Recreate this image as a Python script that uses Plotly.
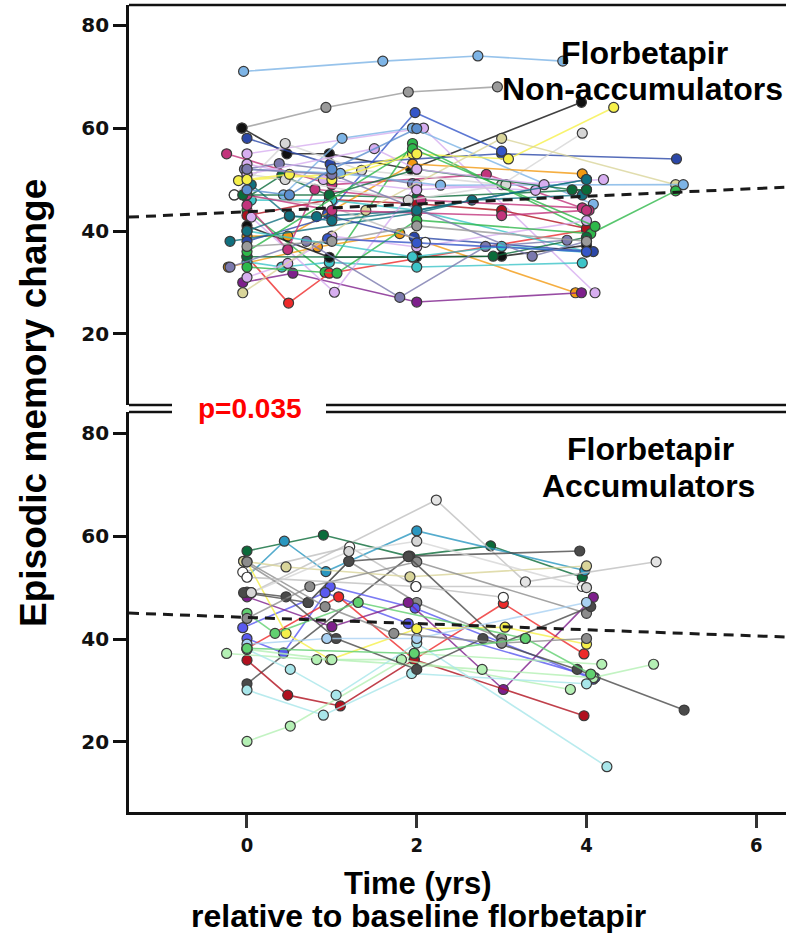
import numpy as np
import plotly.graph_objects as go

# ---------------- colours ----------------
DB = "#2B47A8"; LB = "#7DB4E6"; LAV = "#D7AEF0"; MAG = "#C2347C"; BLK = "#111111"
GRY = "#9A9A9A"; LGR = "#D6D6D6"; WHT = "#FFFFFF"; YEL = "#F6F04A"; ORA = "#F39A12"
DGR = "#0B6B3A"; GRN = "#2EB84A"; TEA = "#3CC4C8"; DTE = "#11707F"; RED = "#EE2A2A"
DRD = "#B0101E"; PUR = "#7E1F8C"; SLA = "#7B79AE"; KHA = "#D9D59A"; ROY = "#3556C8"
STL = "#5B8FD0"
TBL = "#2A97C0"; VLG = "#E4E4E4"; GR2 = "#8C8C8C"; DKG = "#4A4A4A"; BLU = "#5A5AF0"
LGN = "#B4F0B4"; GN2 = "#60D070"; LCY = "#A8E6EA"; LBL = "#A9D1F2"

# ---------------- data: non-accumulators (top panel) ----------------
TOP_TIMES = [
    [-0.04, 1.6, 2.72, 3.72], [-0.06, 0.93, 1.9, 2.95], [-0.06, 0.47, 0.97, 1.93, 3.94],
    [0.0, 0.98, 3.0, 5.06], [0.95, 1.98, 3.0], [0.0, 2.08, 4.1], [0.43, 1.12, 1.95, 4.08],
    [-0.24, 1.0, 2.82, 4.03], [-0.15, 0.45, 1.35, 3.0, 3.95], [-0.03, 0.38, 1.0, 1.95],
    [-0.1, 1.0, 1.95, 3.08, 4.32], [0.0, 0.41, 0.97, 2.0, 4.0], [0.0, 0.92, 1.95, 4.05],
    [0.0, 0.48, 1.95, 3.95], [-0.22, 0.83, 1.8, 3.87], [-0.05, 0.54, 2.0, 3.94],
    [0.0, 0.49, 0.97, 4.0], [0.0, 0.97, 2.0, 3.0, 4.0], [0.0, 0.41, 0.97, 2.0, 3.95],
    [0.05, 1.0, 2.0, 4.0], [0.05, 0.5, 0.82, 2.0, 4.0], [-0.2, 2.0, 2.65, 3.95],
    [0.0, 1.0, 1.97, 4.08], [0.0, 0.48, 1.0, 2.0, 4.0], [0.05, 1.03, 2.0, 3.4],
    [-0.05, 1.4, 3.0, 5.05], [0.0, 1.1, 2.28, 5.14], [0.0, 1.06, 2.0, 4.05, 5.05],
    [0.0, 0.97, 2.0, 3.0, 4.0], [0.0, 1.95, 2.9, 4.0], [-0.2, 0.7, 1.8, 2.81, 3.77],
    [0.0, 0.48, 0.8, 2.05, 3.95], [-0.15, 0.95, 2.1], [0.0, 0.9, 2.0, 4.2],
    [0.0, 0.45, 1.9, 3.05], [0.0, 1.0, 3.0, 4.0], [0.0, 1.95, 3.0, 4.0],
    [-0.05, 0.97, 2.0, 3.83, 4.0], [0.95, 2.0, 4.0], [0.0, 1.5, 2.0, 3.5],
    [0.0, 1.95, 4.1], [0.0, 0.5, 1.0, 2.0], [0.0, 1.0, 3.36, 4.0], [0.0, 1.0, 2.0, 4.0],
    [0.0, 0.5, 1.0, 2.0], [0.0, 0.5, 1.0, 2.0, 4.0],
]
TOP_VALUES = [
    [71, 73, 74, 73], [60, 64, 67, 68], [60, 55, 55, 52, 65],
    [58, 53, 55, 54], [43.4, 63, 55.5], [55, 60, 28], [47, 58, 60, 45.2],
    [55, 49, 51, 44], [47, 57, 51.8, 49, 59], [52, 53.1, 51.9, 49.2],
    [49.8, 51, 55, 54, 64], [46.5, 50.8, 46.9, 46.5, 48], [44, 32, 57, 40],
    [39, 39, 53, 51.1], [33, 36.9, 39.5, 28], [30, 31.8, 26.2, 28],
    [35, 26, 31.8, 40.2], [43, 46.1, 45.3, 44, 40.5], [34, 33, 33.9, 33, 33.8],
    [46, 46, 44, 36], [49, 42.8, 42.8, 44, 50], [38, 43.5, 46, 47],
    [38, 42.8, 38.8, 36], [31, 33.7, 39, 36.9, 42], [42.7, 28.1, 49, 47.9],
    [28, 44, 58, 49], [52, 51.2, 48.9, 49], [33, 31.8, 42.1, 39.5, 47.8],
    [41, 34.9, 35, 35.1, 37.2], [35, 34.9, 35.1, 38.8], [33, 38, 27.1, 37, 38.2],
    [45, 36.4, 48.1, 46, 44.5], [47, 45, 37.8], [53, 50, 48, 50],
    [51, 50, 46, 49], [47, 44, 43, 44], [40, 35, 37, 35.9],
    [47, 47, 52, 48, 48], [38.5, 37.7, 36], [51, 56, 52, 49],
    [36, 56, 40.9], [50, 51, 50, 55], [52, 51, 35.1, 38], [37, 38, 41, 38],
    [48, 47, 52, 59.9], [40, 43, 42, 44, 50],
]
TOP_COLORS = [
    LB, GRY, BLK, DB, ROY, LAV, LB, MAG, LGR, SLA, YEL, DGR, GRN, ORA, ORA, PUR,
    RED, DRD, TEA, TEA, DTE, DTE, DB, LAV, LAV, KHA, LB, GRN, BLK, DGR, SLA, MAG,
    WHT, LAV, LGR, MAG, TEA, DGR, ROY, LAV, GRN, YEL, SLA, GRY, STL, DTE,
]

# ---------------- data: accumulators (bottom panel) ----------------
BOT_TIMES = [
    [0.0, 0.9, 1.9, 2.87, 3.95], [0.0, 0.44, 0.93, 2.0, 3.98], [0.05, 2.23, 3.28, 4.82],
    [-0.05, 1.21, 1.99, 3.95], [-0.04, 0.72, 1.2, 2.0, 3.0], [0.0, 1.92, 3.92],
    [-0.04, 0.46, 1.92, 4.0], [0.0, 0.43, 0.98, 1.98, 4.08], [-0.05, 0.92, 1.9, 4.1],
    [0.0, 1.0, 1.9, 3.02, 4.08], [0.0, 1.08, 1.97, 3.02, 3.97], [0.0, 0.48, 1.1, 1.97, 3.97],
    [0.0, 0.46, 0.98, 2.0, 3.04, 4.0], [0.0, 0.33, 1.31, 3.28], [0.0, 0.51, 1.97, 4.18],
    [-0.24, 0.82, 1.82, 3.81], [0.0, 1.0, 2.77, 4.08, 4.79], [0.0, 0.51, 1.05, 2.0, 4.24],
    [0.0, 0.9, 1.94, 4.0], [0.0, 0.46, 1.05, 2.0, 2.78, 3.89, 5.15], [0.0, 0.74, 2.0, 4.0],
    [-0.04, 0.72, 1.2, 1.9, 3.0, 4.05], [0.0, 0.94, 2.0, 4.0], [0.0, 0.92, 1.73, 3.0, 4.0],
    [0.0, 1.99, 3.02], [0.05, 1.2, 2.0, 4.0], [0.0, 1.97, 3.28, 4.05],
]
BOT_VALUES = [
    [57.1, 60.2, 56.1, 58.1, 52], [52.1, 59, 53.1, 61, 53.3], [49, 67, 51.1, 55],
    [53, 57.9, 50.2, 50.2], [55.1, 47.1, 55.1, 47.1, 40.1], [31.3, 56.1, 57.1],
    [55.1, 54, 52.1, 54.2], [40.1, 37.3, 50.2, 46, 32.2], [42.2, 49, 43, 32.5],
    [48.2, 42.4, 47.1, 30.2, 48.1], [38.2, 48.2, 36, 46.9, 37.1], [35.9, 29.1, 27, 36, 25.1],
    [55, 41.1, 36, 42, 42.3, 39], [45, 41.1, 47.1, 40.1], [20.1, 23.1, 37.2, 35.1],
    [37.2, 36, 36, 30.2], [38, 36, 34.1, 32.5, 35.1], [38, 34.1, 29.1, 39.2, 15.2],
    [30.1, 25.2, 33.3, 31.3], [49.1, 48.2, 40.1, 34.1, 40.1, 34.1, 26.2], [44, 50.2, 55, 45],
    [49, 47.1, 55.1, 56, 39.2, 46.3], [39, 40.1, 40.1, 47.1], [55, 46.3, 41.1, 39.2, 40.1],
    [52, 50.2, 48.1], [49, 57, 59, 50], [38.2, 37.2, 40.1, 33.2],
]
BOT_COLORS = [
    DGR, TBL, VLG, WHT, GR2, DKG, KHA, BLU, BLU, PUR, RED, DRD, YEL, GN2, LGN,
    LGN, LGN, LCY, LCY, DKG, GR2, DKG, LBL, GR2, WHT, LGR, GN2,
]

# regression fits (intercept at t=0, slope per year)
TOP_FIT = (43.74, 0.75)
BOT_FIT = (44.2, -0.6)
P_TEXT = "p=0.035"

X_RANGE = [-1.39, 6.35]
X_TICKS = [0, 2, 4, 6]
Y_TICKS = [20, 40, 60, 80]


def rgba(hexc, a):
    h = hexc.lstrip("#")
    r, g, b = int(h[0:2], 16), int(h[2:4], 16), int(h[4:6], 16)
    return f"rgba({r},{g},{b},{a})"


fig = go.Figure()


def add_panel(times, values, colors, xa, ya):
    for t, v, c in zip(times, values, colors):
        linec = rgba("#BBBBBB", 0.75) if c in (WHT, VLG) else rgba(c, 0.8)
        fig.add_trace(go.Scatter(
            x=t, y=v, mode="lines+markers", xaxis=xa, yaxis=ya,
            line=dict(color=linec, width=1.6),
            marker=dict(size=10, color=c, line=dict(color="#3A3A3A", width=1.2)),
            hoverinfo="skip", showlegend=False,
        ))


add_panel(TOP_TIMES, TOP_VALUES, TOP_COLORS, "x2", "y2")
add_panel(BOT_TIMES, BOT_VALUES, BOT_COLORS, "x", "y")

xs = np.array(X_RANGE)
for (b0, b1), xa, ya in [(TOP_FIT, "x2", "y2"), (BOT_FIT, "x", "y")]:
    fig.add_trace(go.Scatter(
        x=xs, y=b0 + b1 * xs, mode="lines", xaxis=xa, yaxis=ya,
        line=dict(color="#1A1A1A", width=3, dash="10px,7px"),
        hoverinfo="skip", showlegend=False,
    ))

W, H = 786, 933
ML, MR, MT, MB = 129, 0, 5, 121
PW, PH = W - ML - MR, H - MT - MB
TOP_BOTTOM_PX, BOT_TOP_PX = 405, 412


def px_x(px):
    return (px - ML) / PW


def px_y(py):
    return (H - MB - py) / PH


top_dom = [px_y(TOP_BOTTOM_PX), 1]
bot_dom = [0, px_y(BOT_TOP_PX)]

ytick = dict(
    tickvals=Y_TICKS, ticks="outside", ticklen=13, tickwidth=2.5, tickcolor="#111",
    showline=True, linewidth=2.6, linecolor="#111", showgrid=False, zeroline=False,
    tickfont=dict(family="DejaVu Sans", size=20, color="#111", weight="bold"),
)

fig.update_layout(
    width=W, height=H, margin=dict(l=ML, r=MR, t=MT, b=MB),
    paper_bgcolor="white", plot_bgcolor="white", showlegend=False,
    xaxis=dict(
        domain=[0, 1], anchor="y", range=X_RANGE, tickvals=X_TICKS,
        ticks="outside", ticklen=13, tickwidth=2.5, tickcolor="#333",
        showline=True, linewidth=2.6, linecolor="#111", showgrid=False, zeroline=False,
        tickfont=dict(family="DejaVu Sans Condensed", size=20, color="#111", weight=600),
    ),
    xaxis2=dict(domain=[0, 1], anchor="y2", matches="x", range=X_RANGE,
                showticklabels=False, ticks="", showline=False, showgrid=False, zeroline=False),
    yaxis=dict(domain=bot_dom, range=[6.4, 84.1], anchor="x", **ytick),
    yaxis2=dict(domain=top_dom, range=[6.2, 83.9], anchor="x2", **ytick),
)

# panel borders (top panel top/bottom, bottom panel top) with a gap for the p-value
line_style = dict(color="#111", width=2.6)
gap_l, gap_r = px_x(172), px_x(326)
shapes = [
    dict(type="line", xref="paper", yref="paper", x0=0, x1=1, y0=1, y1=1, line=line_style),
]
for yy in (top_dom[0], bot_dom[1]):
    shapes.append(dict(type="line", xref="paper", yref="paper", x0=0, x1=gap_l, y0=yy, y1=yy, line=line_style))
    shapes.append(dict(type="line", xref="paper", yref="paper", x0=gap_r, x1=1, y0=yy, y1=yy, line=line_style))
fig.update_layout(shapes=shapes)

TF = "Liberation Sans"


def ann(text, px, py, size, color="#000", angle=0):
    fig.add_annotation(
        text=f"<b>{text}</b>", x=px_x(px), y=px_y(py), xref="paper", yref="paper",
        xanchor="center", yanchor="middle", showarrow=False, textangle=angle,
        font=dict(family=TF, size=size, color=color),
    )


ann("Florbetapir", 644, 53, 32)
ann("Non-accumulators", 642, 89, 32)
ann("Florbetapir", 650, 449, 32)
ann("Accumulators", 648, 486, 32)
ann(P_TEXT, 250, 408, 28, color="#FF0000")
ann("Episodic memory change", 33, 403, 37, angle=-90)
ann("Time (yrs)", 418, 883, 31)
ann("relative to baseline florbetapir", 418, 916, 32)

fig.write_html("out.html")
